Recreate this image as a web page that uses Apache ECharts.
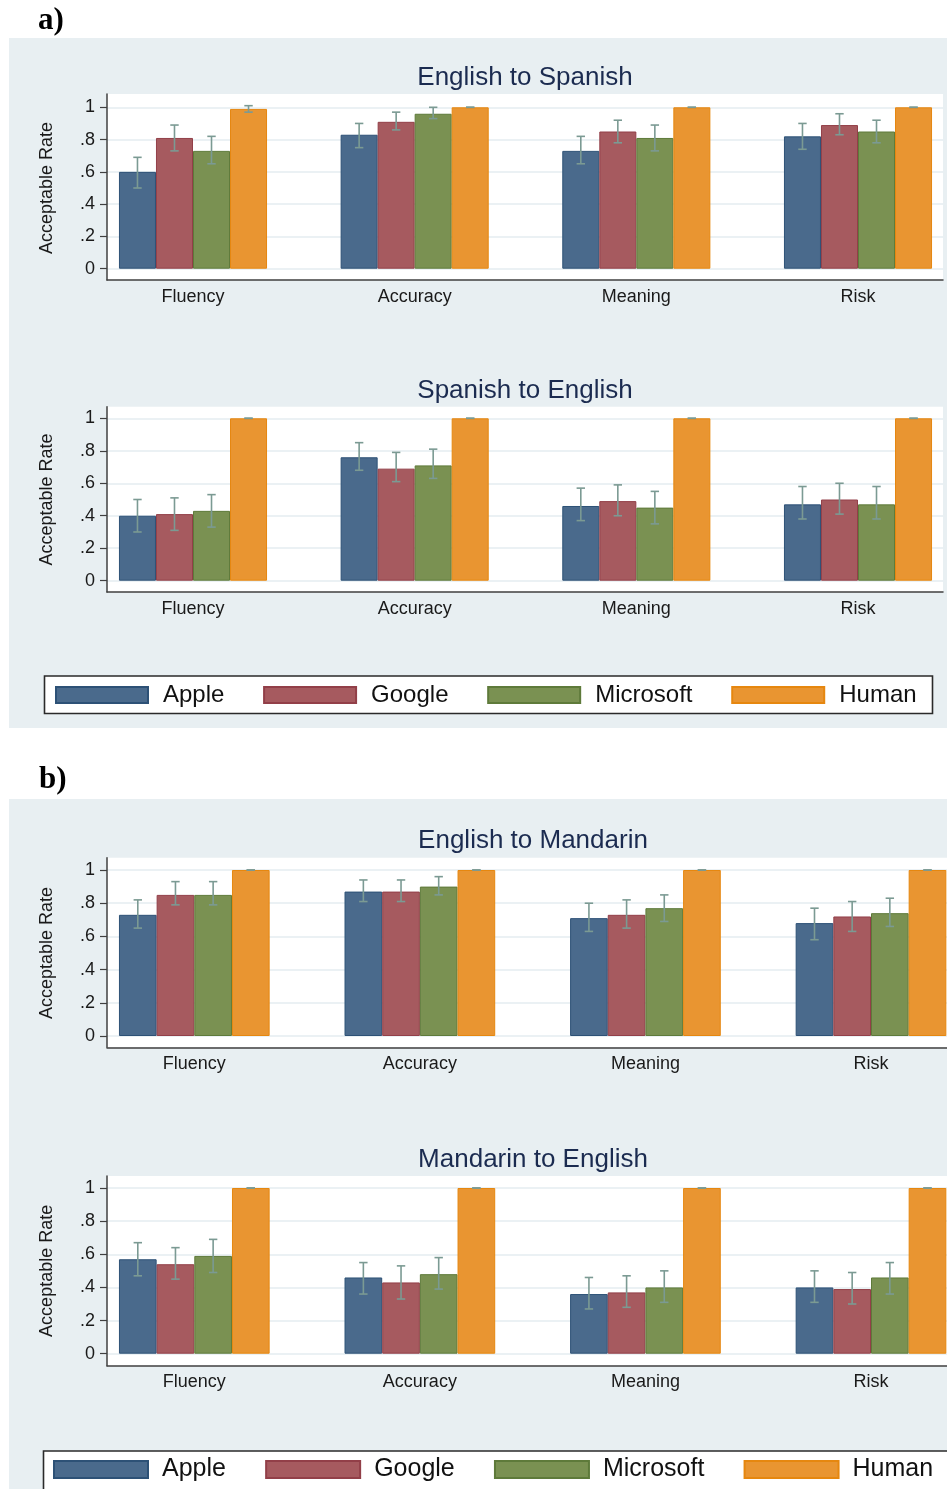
<!DOCTYPE html>
<html>
<head>
<meta charset="utf-8">
<script src="https://cdn.jsdelivr.net/npm/echarts@6/dist/echarts.min.js"></script>
<style>
html,body{margin:0;padding:0;background:#fff;}
#c{width:947px;height:1489px;}
</style>
</head>
<body>
<div id="c"></div>
<script>
// ---------------- DATA ----------------
const categories = ['Fluency', 'Accuracy', 'Meaning', 'Risk'];
const systems = ['Apple', 'Google', 'Microsoft', 'Human'];
const yTicks = [0, 0.2, 0.4, 0.6, 0.8, 1];
const yTickLabels = ['0', '.2', '.4', '.6', '.8', '1'];
const chartTitles = ['English to Spanish', 'Spanish to English', 'English to Mandarin', 'Mandarin to English'];
const yTitle = 'Acceptable Rate';

// English to Spanish  (rows: Apple, Google, Microsoft, Human; cols: categories)
const esMean = [[0.60, 0.83, 0.73, 0.82], [0.81, 0.91, 0.85, 0.89], [0.73, 0.96, 0.81, 0.85], [0.99, 1.00, 1.00, 1.00]];
const esLow  = [[0.50, 0.75, 0.65, 0.74], [0.73, 0.86, 0.78, 0.83], [0.65, 0.93, 0.73, 0.78], [0.97, 1.00, 1.00, 1.00]];
const esHigh = [[0.69, 0.90, 0.82, 0.90], [0.89, 0.97, 0.92, 0.96], [0.82, 1.00, 0.89, 0.92], [1.01, 1.00, 1.00, 1.00]];

// Spanish to English
const seMean = [[0.40, 0.76, 0.46, 0.47], [0.41, 0.69, 0.49, 0.50], [0.43, 0.71, 0.45, 0.47], [1.00, 1.00, 1.00, 1.00]];
const seLow  = [[0.30, 0.68, 0.37, 0.38], [0.31, 0.61, 0.40, 0.41], [0.33, 0.63, 0.35, 0.38], [1.00, 1.00, 1.00, 1.00]];
const seHigh = [[0.50, 0.85, 0.57, 0.58], [0.51, 0.79, 0.59, 0.60], [0.53, 0.81, 0.55, 0.58], [1.00, 1.00, 1.00, 1.00]];

// English to Mandarin
const emMean = [[0.73, 0.87, 0.71, 0.68], [0.85, 0.87, 0.73, 0.72], [0.85, 0.90, 0.77, 0.74], [1.00, 1.00, 1.00, 1.00]];
const emLow  = [[0.65, 0.81, 0.63, 0.58], [0.79, 0.81, 0.65, 0.63], [0.79, 0.85, 0.69, 0.66], [1.00, 1.00, 1.00, 1.00]];
const emHigh = [[0.82, 0.94, 0.80, 0.77], [0.93, 0.94, 0.82, 0.81], [0.93, 0.96, 0.85, 0.83], [1.00, 1.00, 1.00, 1.00]];

// Mandarin to English
const meMean = [[0.57, 0.46, 0.36, 0.40], [0.54, 0.43, 0.37, 0.39], [0.59, 0.48, 0.40, 0.46], [1.00, 1.00, 1.00, 1.00]];
const meLow  = [[0.47, 0.36, 0.27, 0.31], [0.45, 0.33, 0.28, 0.30], [0.49, 0.39, 0.31, 0.36], [1.00, 1.00, 1.00, 1.00]];
const meHigh = [[0.67, 0.55, 0.46, 0.50], [0.64, 0.53, 0.47, 0.49], [0.69, 0.58, 0.50, 0.55], [1.00, 1.00, 1.00, 1.00]];

// ---------------- STYLE / LAYOUT ----------------
const FONT = '"Liberation Sans", Arial, sans-serif';
const fills   = ['#4a6a8c', '#a65a5f', '#7a9152', '#e99531'];
const borders = ['#2d5176', '#923f48', '#5e7a3a', '#e6870f'];
const ERR_COLOR = '#7b9a93';
const BG = '#e8eff2';
const BAR_FRAC = 0.167;

// per chart layout (pixels); bar grid spans first to last category centre
const layouts = [
  { // A1
    plotTop: 94, plotBottom: 280, y1: 107.3, y0: 268.7, plotLeft: 107, plotRight: 943,
    catFirst: 193, catLast: 858, titleX: 525, titleTop: 64.5
  },
  { // A2
    plotTop: 406.7, plotBottom: 592, y1: 418.3, y0: 580.7, plotLeft: 107, plotRight: 943,
    catFirst: 193, catLast: 858, titleX: 525, titleTop: 377.5
  },
  { // B1
    plotTop: 857.7, plotBottom: 1047.3, y1: 870, y0: 1036, plotLeft: 107, plotRight: 947,
    catFirst: 194.3, catLast: 871, titleX: 533, titleTop: 827.5
  },
  { // B2
    plotTop: 1176, plotBottom: 1365.7, y1: 1188, y0: 1353.7, plotLeft: 107, plotRight: 947,
    catFirst: 194.3, catLast: 871, titleX: 533, titleTop: 1146.5
  }
];
const datasets = [
  [esMean, esLow, esHigh],
  [seMean, seLow, seHigh],
  [emMean, emLow, emHigh],
  [meMean, meLow, meHigh]
];

const grid = [], xAxis = [], yAxis = [], series = [], title = [];

layouts.forEach((L, k) => {
  const gBg = grid.length;
  // background white plot region with axis lines
  grid.push({ left: L.plotLeft, top: L.plotTop, width: L.plotRight - L.plotLeft,
              height: L.plotBottom - L.plotTop, show: true, backgroundColor: '#ffffff',
              borderWidth: 0, containLabel: false, z: -1 });
  xAxis.push({ gridIndex: gBg, type: 'value', min: 0, max: 1, position: 'bottom',
               axisLine: { show: true, onZero: false, lineStyle: { color: '#404040', width: 1.5 } },
               axisTick: { show: false }, axisLabel: { show: false }, splitLine: { show: false }, silent: true });
  yAxis.push({ gridIndex: gBg, type: 'value', min: 0, max: 1, position: 'left',
               axisLine: { show: true, onZero: false, lineStyle: { color: '#404040', width: 1.5 } },
               axisTick: { show: false }, axisLabel: { show: false }, splitLine: { show: false }, silent: true });

  // scale grid: tick labels, ticks, grid lines, y title
  const gSc = grid.length;
  grid.push({ left: L.plotLeft, top: L.y1, width: L.plotRight - L.plotLeft, height: L.y0 - L.y1, show: false, containLabel: false });
  xAxis.push({ gridIndex: gSc, type: 'value', min: 0, max: 1, show: false });
  yAxis.push({ gridIndex: gSc, type: 'value', min: 0, max: 1, interval: 0.2,
               axisLine: { show: false },
               axisTick: { show: true, length: 7, lineStyle: { color: '#404040', width: 1.2 } },
               axisLabel: { show: true, margin: 12, fontFamily: FONT, fontSize: 18, color: '#1a1a1a',
                            formatter: v => { const i = yTicks.findIndex(t => Math.abs(t - v) < 1e-6); return i >= 0 ? yTickLabels[i] : ''; } },
               splitLine: { show: true, lineStyle: { color: '#e5edf0', width: 1.5 } },
               name: yTitle, nameLocation: 'middle', nameGap: 51,
               nameTextStyle: { fontFamily: FONT, fontSize: 18, color: '#1a1a1a' } });

  // bar grid
  const gBar = grid.length;
  grid.push({ left: L.catFirst, top: L.y1, width: L.catLast - L.catFirst, height: L.y0 - L.y1, show: false, containLabel: false });
  xAxis.push({ gridIndex: gBar, type: 'category', data: categories, boundaryGap: false,
               axisLine: { show: false }, axisTick: { show: false },
               axisLabel: { show: true, margin: 19, fontFamily: FONT, fontSize: 18, color: '#1a1a1a' } });
  yAxis.push({ gridIndex: gBar, type: 'value', min: 0, max: 1, show: false });

  const [mean, low, high] = datasets[k];
  systems.forEach((s, i) => {
    series.push({
      name: s, type: 'bar', xAxisIndex: gBar, yAxisIndex: gBar,
      data: mean[i], barWidth: (BAR_FRAC * 100) + '%', barGap: '0%',
      itemStyle: { color: fills[i], borderColor: borders[i], borderWidth: 1 },
      silent: true, z: 2
    });
  });
  const errData = [];
  systems.forEach((s, i) => {
    categories.forEach((c, j) => errData.push([j, low[i][j], high[i][j], i]));
  });
  series.push({
    name: 'ci' + k, type: 'custom', xAxisIndex: gBar, yAxisIndex: gBar, z: 5, silent: true,
    data: errData, encode: { x: 0, y: [1, 2] },
    renderItem: (params, api) => {
      const cat = api.value(0), lo = api.value(1), hi = api.value(2), si = api.value(3);
      const band = api.size([1, 0])[0];
      const bw = band * BAR_FRAC;
      const cx = api.coord([cat, 0])[0] + (si - 1.5) * bw;
      const yLo = api.coord([cat, lo])[1];
      const yHi = api.coord([cat, hi])[1];
      const cap = 4.2;
      const st = { stroke: ERR_COLOR, lineWidth: 1.6 };
      return { type: 'group', children: [
        { type: 'line', shape: { x1: cx, y1: yLo, x2: cx, y2: yHi }, style: st },
        { type: 'line', shape: { x1: cx - cap, y1: yHi, x2: cx + cap, y2: yHi }, style: st },
        { type: 'line', shape: { x1: cx - cap, y1: yLo, x2: cx + cap, y2: yLo }, style: st }
      ] };
    }
  });

  title.push({ text: chartTitles[k], left: L.titleX, top: L.titleTop, textAlign: 'center', padding: 0,
               textStyle: { fontFamily: FONT, fontSize: 26, fontWeight: 'normal', color: '#1b2b50' } });
});

const legendCommon = {
  data: systems, orient: 'horizontal', icon: 'rect', padding: 0, selectedMode: false
};

const option = {
  animation: false,
  backgroundColor: '#ffffff',
  title: title,
  grid: grid,
  xAxis: xAxis,
  yAxis: yAxis,
  series: series,
  legend: [
    Object.assign({}, legendCommon, { left: 55, top: 683, itemWidth: 92, itemHeight: 16, itemGap: 38.7,
      textStyle: { fontFamily: FONT, fontSize: 24, color: '#111', padding: [0, 0, 0, 10] } }),
    Object.assign({}, legendCommon, { left: 53, top: 1457, itemWidth: 94, itemHeight: 17, itemGap: 39.2,
      textStyle: { fontFamily: FONT, fontSize: 25, color: '#111', padding: [0, 0, 0, 9] } })
  ],
  graphic: [
    { type: 'rect', z: -10, silent: true, shape: { x: 9, y: 38, width: 950, height: 690 }, style: { fill: BG } },
    { type: 'rect', z: -10, silent: true, shape: { x: 9, y: 799, width: 950, height: 700 }, style: { fill: BG } },
    { type: 'rect', z: -5, silent: true, shape: { x: 44.5, y: 676, width: 888, height: 37.5 },
      style: { fill: '#ffffff', stroke: '#2a2a2a', lineWidth: 1.6 } },
    { type: 'rect', z: -5, silent: true, shape: { x: 43.5, y: 1451, width: 920, height: 50 },
      style: { fill: '#ffffff', stroke: '#2a2a2a', lineWidth: 1.6 } },
    { type: 'text', z: 10, silent: true, style: { x: 38, y: 21, text: 'a)', fill: '#000',
      font: 'bold 31px "Liberation Serif", "Times New Roman", serif', verticalAlign: 'middle' } },
    { type: 'text', z: 10, silent: true, style: { x: 39, y: 780, text: 'b)', fill: '#000',
      font: 'bold 31px "Liberation Serif", "Times New Roman", serif', verticalAlign: 'middle' } }
  ]
};

const chart = echarts.init(document.getElementById('c'), null, { renderer: 'canvas' });
chart.setOption(option);
</script>
</body>
</html>
